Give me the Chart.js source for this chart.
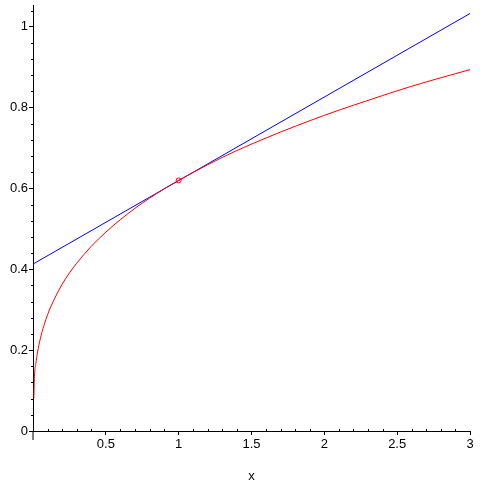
<!DOCTYPE html>
<html>
<head>
<meta charset="utf-8">
<script src="https://cdn.jsdelivr.net/npm/chart.js@4"></script>
<style>
  html, body { margin: 0; padding: 0; background: #fff; }
  #wrap { width: 484px; height: 484px; }
</style>
</head>
<body>
<div id="wrap"><canvas id="c" width="484" height="484"></canvas></div>
<script>
// Curva (roja)
const curvaX = [0.006, 0.01, 0.02, 0.03, 0.05, 0.075, 0.1, 0.15, 0.2, 0.25, 0.3, 0.4, 0.5,
  0.6, 0.7, 0.8, 0.9, 1.0, 1.2, 1.4, 1.6, 1.8, 2.0, 2.2, 2.4, 2.6, 2.8, 3.0];
const curvaY = [0.082, 0.134, 0.168, 0.193, 0.228, 0.261, 0.288, 0.329, 0.363, 0.391, 0.415, 0.457, 0.492,
  0.523, 0.551, 0.576, 0.599, 0.620, 0.659, 0.694, 0.725, 0.754, 0.781, 0.806, 0.830, 0.853, 0.874, 0.894];
// Recta tangente (azul)
const rectaX = [0, 3];
const rectaY = [0.413, 1.033];
// Punto de tangencia
const puntoX = [1];
const puntoY = [0.62];

const xMajor = [0.5, 1, 1.5, 2, 2.5, 3];
const yMajor = [0, 0.2, 0.4, 0.6, 0.8, 1];
const xLabel = 'x';

const pares = (xs, ys) => xs.map((x, i) => ({ x, y: ys[i] }));
const FONT = { family: 'Liberation Sans, Arial, sans-serif', size: 13 };

// Marcas menores estilo Maple, dibujadas con las escalas de Chart.js
const minorTicks = {
  id: 'minorTicks',
  afterDraw(chart) {
    const { ctx, scales: { x, y } } = chart;
    ctx.save();
    ctx.strokeStyle = '#000';
    ctx.lineWidth = 1;
    ctx.beginPath();
    for (let i = 1; i <= 30; i++) {
      if (i % 5 === 0) continue;
      const px = Math.round(x.getPixelForValue(i / 10)) + 0.5;
      ctx.moveTo(px, y.bottom);
      ctx.lineTo(px, y.bottom - 2);
    }
    for (let i = 1; i <= 26; i++) {
      if (i % 5 === 0) continue;
      const py = Math.round(y.getPixelForValue(i * 0.04)) + 0.5;
      ctx.moveTo(x.left, py);
      ctx.lineTo(x.left - 2, py);
    }
    // el eje y baja un poco por debajo del eje x
    const x0 = Math.round(x.getPixelForValue(0));
    ctx.moveTo(x0, y.bottom);
    ctx.lineTo(x0, y.bottom + 9);
    ctx.stroke();
    ctx.restore();
  }
};

new Chart(document.getElementById('c'), {
  type: 'scatter',
  data: {
    datasets: [
      { data: pares(curvaX, curvaY), showLine: true, borderColor: '#ff0000', borderWidth: 1, pointRadius: 0, cubicInterpolationMode: 'monotone', clip: false },
      { data: pares(rectaX, rectaY), showLine: true, borderColor: '#0000ff', borderWidth: 1, pointRadius: 0 },
      { data: pares(puntoX, puntoY), showLine: false, borderColor: '#ff0000', backgroundColor: 'rgba(0,0,0,0)', borderWidth: 1, pointRadius: 2.5 },
    ],
  },
  options: {
    responsive: false, animation: false,
    layout: { padding: { top: 3, right: 14, left: 0, bottom: 0 } },
    plugins: { legend: { display: false }, tooltip: { enabled: false } },
    scales: {
      x: {
        type: 'linear', min: 0, max: 3,
        afterBuildTicks: s => { s.ticks = xMajor.map(v => ({ value: v })); },
        afterFit: s => { s.height = 53; s.paddingLeft = 0; s.paddingRight = 0; },
        ticks: { color: '#000', font: FONT, maxRotation: 0, padding: 2, callback: v => String(v) },
        grid: { drawOnChartArea: false, tickLength: 4, color: '#000' },
        border: { color: '#000' },
        title: { display: true, text: xLabel, color: '#000', font: FONT, padding: { top: 0, bottom: 0 } },
      },
      y: {
        type: 'linear', min: 0, max: 1.054,
        afterBuildTicks: s => { s.ticks = yMajor.map(v => ({ value: v })); },
        afterFit: s => { s.width = 33; s.paddingTop = 0; s.paddingBottom = 0; },
        ticks: { color: '#000', font: FONT, padding: 1, callback: v => String(v) },
        grid: { drawOnChartArea: false, tickLength: 4, color: '#000' },
        border: { color: '#000' },
      },
    },
  },
  plugins: [minorTicks],
});
</script>
</body>
</html>
